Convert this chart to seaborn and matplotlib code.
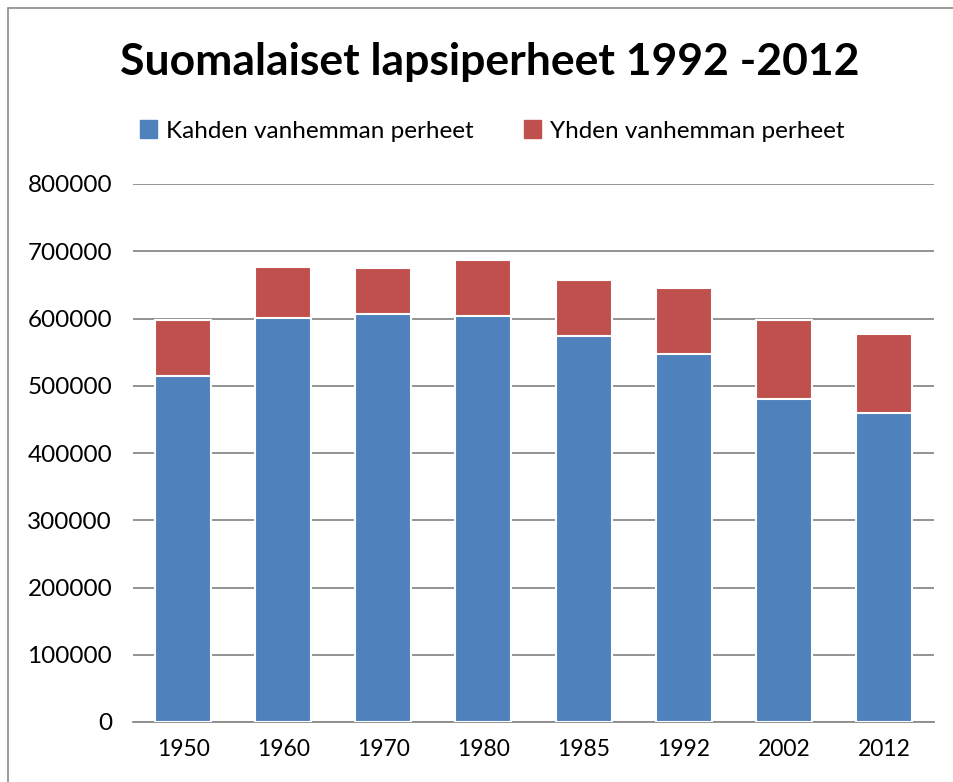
import pandas as pd
import numpy as np
import seaborn as sns
import matplotlib.pyplot as plt
import matplotlib
from matplotlib.patches import Patch, Rectangle

years = ['1950', '1960', '1970', '1980', '1985', '1992', '2002', '2012']
kahden = [514500, 600700, 606700, 603300, 574400, 547700, 480300, 459500]
yhden = [83300, 75300, 68400, 83200, 82800, 98100, 117500, 117000]

sns.set_style('white')
plt.rcParams['font.family'] = ['Lato', 'DejaVu Sans']
plt.rcParams['text.color'] = 'black'
plt.rcParams['xtick.color'] = 'black'
plt.rcParams['ytick.color'] = 'black'

df = pd.DataFrame({'vuosi': years, 'kahden': kahden, 'yhden': yhden})
df['yht'] = df['kahden'] + df['yhden']

blue = '#4F81BD'
red = '#C0504D'

fig = plt.figure(figsize=(9.54, 7.82), dpi=100)
ax = fig.add_axes([133 / 954, 1 - 722 / 782, 801 / 954, 538 / 782])

sns.barplot(data=df, x='vuosi', y='yht', color=red, width=0.56, saturation=1,
            edgecolor='white', linewidth=1.5, ax=ax, zorder=3)
sns.barplot(data=df, x='vuosi', y='kahden', color=blue, width=0.56, saturation=1,
            edgecolor='white', linewidth=1.5, ax=ax, zorder=3)

ax.set_ylim(0, 800000)
ax.set_yticks(np.arange(0, 800001, 100000))
ax.yaxis.grid(True, color='#8a8a8a', linewidth=1.3, zorder=0)
ax.set_axisbelow(True)
for s in ['top', 'right', 'left']:
    ax.spines[s].set_visible(False)
ax.spines['bottom'].set_color('#8a8a8a')
ax.spines['bottom'].set_linewidth(1.3)
ax.set_xlabel('')
ax.set_ylabel('')
ax.tick_params(axis='x', length=0, labelsize=16.5, pad=12)
ax.tick_params(axis='y', length=0, labelsize=17.5, pad=15)
ax.set_xlim(-0.5, len(years) - 0.5)

fig.text(0.513, 1 - 62 / 782, 'Suomalaiset lapsiperheet 1992 -2012', ha='center', va='center',
         fontsize=32, fontweight='bold')

handles = [Patch(color=blue, label='Kahden vanhemman perheet'),
           Patch(color=red, label='Yhden vanhemman perheet')]
fig.legend(handles=handles, loc='center', bbox_to_anchor=(0.516, 1 - 131 / 782), ncol=2,
           frameon=False, fontsize=17.5, handlelength=0.7, handleheight=0.7,
           handletextpad=0.35, columnspacing=2.1)

fig.patches.append(Rectangle((8 / 954, -0.1), 1.1, 1.1 - 8 / 782, transform=fig.transFigure,
                             fill=False, edgecolor='#8a8a8a', linewidth=1.2))

fig.savefig('out.png', dpi=100)
